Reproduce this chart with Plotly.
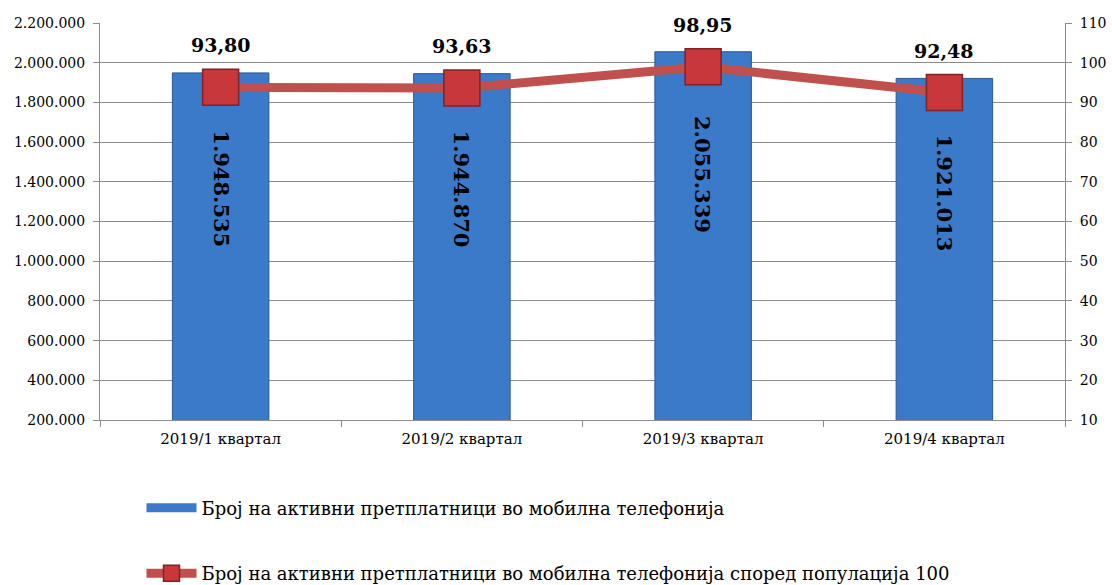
import plotly.graph_objects as go

categories = ["2019/1 квартал", "2019/2 квартал", "2019/3 квартал", "2019/4 квартал"]
subscribers = [1948535, 1944870, 2055339, 1921013]
per100 = [93.80, 93.63, 98.95, 92.48]
bar_name = "Број на активни претплатници во мобилна телефонија"
line_name = "Број на активни претплатници во мобилна телефонија според популација 100"

left_ticks = list(range(200000, 2200001, 200000))
right_ticks = list(range(10, 111, 10))

def fmt_int(v):
    return f"{v:,}".replace(",", ".")

def fmt_dec(v):
    return f"{v:.2f}".replace(".", ",")

FONT = "DejaVu Serif"
GRID = "#8c8c8c"
BLUE = "#3b79c9"

fig = go.Figure()
fig.add_trace(go.Bar(
    x=categories, y=subscribers, name=bar_name, width=0.4,
    marker=dict(color=BLUE, line=dict(color="#2a5898", width=1)),
    showlegend=False,
))
# legend entry for the bar series (flat wide bar symbol)
fig.add_trace(go.Scatter(
    x=[None], y=[None], name=bar_name, mode="lines",
    line=dict(color=BLUE, width=9), legendgroup="a",
))
fig.add_trace(go.Scatter(
    x=categories, y=per100, name=line_name, yaxis="y2",
    mode="lines+markers",
    line=dict(color="#c0504d", width=9),
    marker=dict(symbol="square", size=36, color="#c8383a", line=dict(color="#7f2325", width=1.5)),
    legendgroup="b",
))

for c, v in zip(categories, subscribers):
    fig.add_annotation(
        x=c, y=v * 0.70, xref="x", yref="y", text=f"<b>{fmt_int(v)}</b>",
        textangle=90, showarrow=False,
        font=dict(family=FONT, size=21, color="black"),
    )

for c, v in zip(categories, per100):
    fig.add_annotation(
        x=c, y=v, xref="x", yref="y2", text=f"<b>{fmt_dec(v)}</b>",
        showarrow=False, yshift=42,
        font=dict(family=FONT, size=19, color="black"),
    )

fig.update_layout(
    width=1112, height=585,
    margin=dict(l=100, r=47, t=23, b=165, autoexpand=False),
    paper_bgcolor="white", plot_bgcolor="white",
    font=dict(family=FONT, size=14, color="black"),
    showlegend=True,
    legend=dict(x=0.043, y=0.163, xanchor="left", yanchor="top", yref="container",
                traceorder="grouped", tracegroupgap=39,
                font=dict(family=FONT, size=18, color="black"),
                itemwidth=50),
    xaxis=dict(type="category", showline=True, linecolor=GRID, linewidth=1,
               ticks="outside", tickson="boundaries", tickcolor=GRID, ticklen=6,
               showgrid=False, tickfont=dict(size=15), automargin=False,
               ticklabelstandoff=5),
    yaxis=dict(range=[200000, 2200000], tickvals=left_ticks,
               ticktext=[fmt_int(v) for v in left_ticks],
               showline=True, linecolor=GRID, linewidth=1,
               ticks="outside", tickcolor=GRID, ticklen=6,
               showgrid=True, gridcolor=GRID, gridwidth=1, zeroline=False,
               tickfont=dict(size=14), automargin=False, ticklabelstandoff=5),
    yaxis2=dict(range=[10, 110], tickvals=right_ticks, overlaying="y", side="right",
                showline=True, linecolor=GRID, linewidth=1,
                ticks="outside", tickcolor=GRID, ticklen=6,
                showgrid=False, zeroline=False, tickfont=dict(size=14), automargin=False,
                ticklabelstandoff=5),
)

fig.write_html("out.html", config={"displayModeBar": False},
               post_script="document.body.style.margin='0';document.body.style.overflow='hidden';")
